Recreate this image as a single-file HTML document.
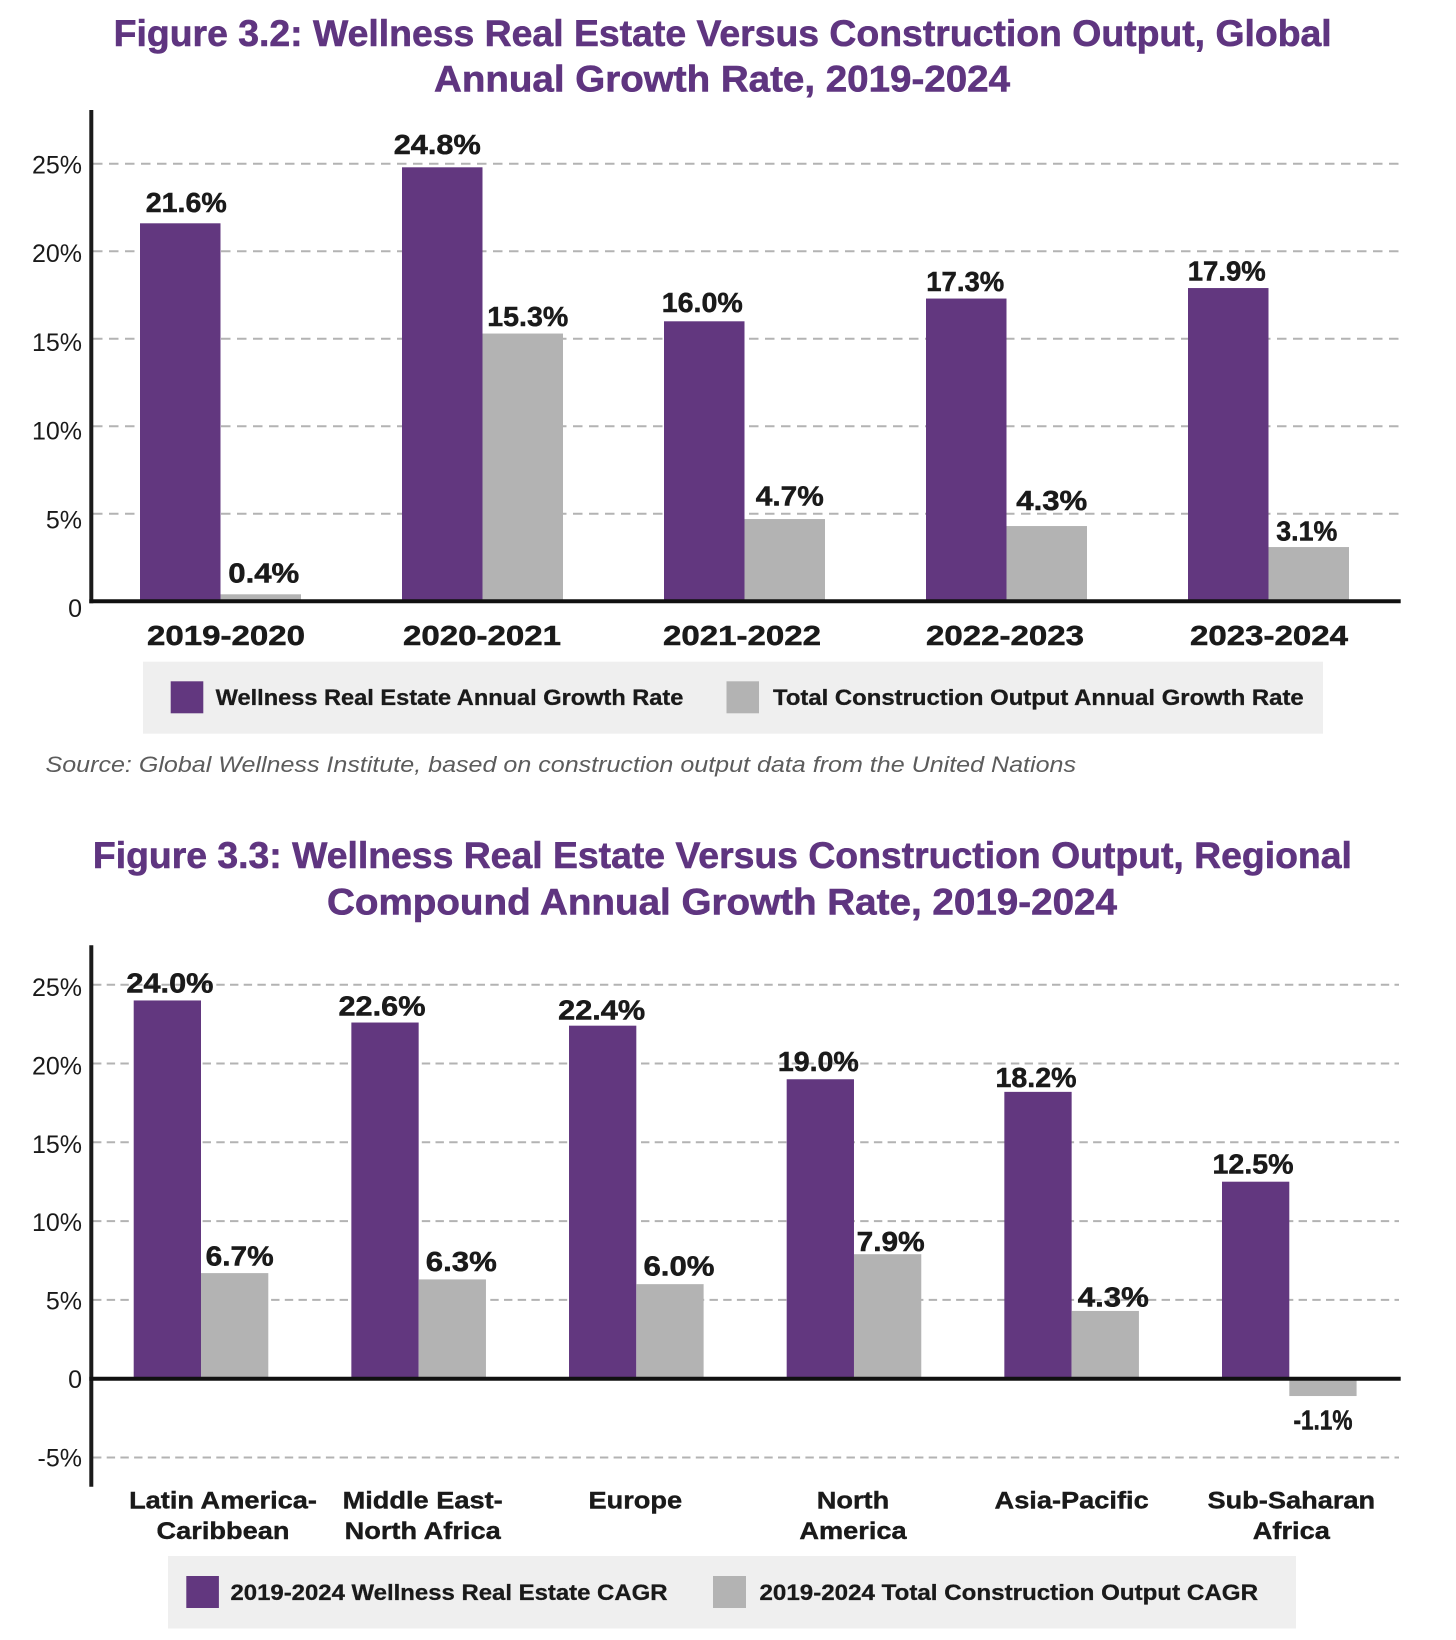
<!DOCTYPE html>
<html lang="en">
<head>
<meta charset="utf-8">
<title>Wellness Real Estate Versus Construction Output</title>
<style>
html,body{margin:0;padding:0;background:#fff;width:1456px;height:1640px;overflow:hidden}
svg{display:block}
text{font-family:"Liberation Sans",Arial,sans-serif}
.title{font-size:37px;font-weight:700;fill:#5f3580;stroke:#5f3580;stroke-width:.6px;text-anchor:start}
.legend-text{font-size:22px;font-weight:700;fill:#1a1a1a;stroke:#1a1a1a;stroke-width:.3px}
.source{font-size:22px;font-style:italic;fill:#5c5c5c}
</style>
</head>
<body>
<svg id="figure" xmlns="http://www.w3.org/2000/svg" width="1456" height="1640" viewBox="0 0 1456 1640">
  <rect x="0" y="0" width="1456" height="1640" fill="#ffffff"/>

  <g>
    <text class="title" x="113.7" y="46" textLength="1218" lengthAdjust="spacingAndGlyphs">Figure 3.2: Wellness Real Estate Versus Construction Output, Global</text>
    <text class="title" x="434" y="91.5" textLength="576" lengthAdjust="spacingAndGlyphs">Annual Growth Rate, 2019-2024</text>
  </g>
  <g id="chart1"></g>
  <g>
    <rect x="143" y="661.7" width="1180" height="72" fill="#efefef"/>
    <rect x="170.7" y="681.3" width="32.6" height="32" fill="#62377f"/>
    <text class="legend-text" x="215.7" y="705" textLength="467.7" lengthAdjust="spacingAndGlyphs">Wellness Real Estate Annual Growth Rate</text>
    <rect x="726.5" y="681.3" width="32.5" height="32" fill="#b3b3b3"/>
    <text class="legend-text" x="773" y="705" textLength="530.7" lengthAdjust="spacingAndGlyphs">Total Construction Output Annual Growth Rate</text>
  </g>
  <text class="source" x="45.5" y="772" textLength="1030.5" lengthAdjust="spacingAndGlyphs">Source: Global Wellness Institute, based on construction output data from the United Nations</text>

  <g>
    <text class="title" x="92.9" y="868" textLength="1259" lengthAdjust="spacingAndGlyphs">Figure 3.3: Wellness Real Estate Versus Construction Output, Regional</text>
    <text class="title" x="327" y="914.7" textLength="790" lengthAdjust="spacingAndGlyphs">Compound Annual Growth Rate, 2019-2024</text>
  </g>
  <g id="chart2"></g>
  <g>
    <rect x="168" y="1556" width="1128" height="72.5" fill="#efefef"/>
    <rect x="186.3" y="1576" width="32.6" height="32" fill="#62377f"/>
    <text class="legend-text" x="230.5" y="1600" textLength="437" lengthAdjust="spacingAndGlyphs">2019-2024 Wellness Real Estate CAGR</text>
    <rect x="713" y="1576" width="33" height="32" fill="#b3b3b3"/>
    <text class="legend-text" x="759.5" y="1600" textLength="498.5" lengthAdjust="spacingAndGlyphs">2019-2024 Total Construction Output CAGR</text>
  </g>
</svg>

<script>
// ---- Figure 3.2 data ----
const yearCategories = ["2019-2020", "2020-2021", "2021-2022", "2022-2023", "2023-2024"];
const wellnessGrowth = [21.6, 24.8, 16.0, 17.3, 17.9];
const constructionGrowth = [0.4, 15.3, 4.7, 4.3, 3.1];
const globalTickValues = [25, 20, 15, 10, 5, 0];
const globalTickLabels = ["25%", "20%", "15%", "10%", "5%", "0"];

// ---- Figure 3.3 data ----
const regionCategories = [
  ["Latin America-", "Caribbean"],
  ["Middle East-", "North Africa"],
  ["Europe"],
  ["North", "America"],
  ["Asia-Pacific"],
  ["Sub-Saharan", "Africa"]
];
const wellnessCagr = [24.0, 22.6, 22.4, 19.0, 18.2, 12.5];
const constructionCagr = [6.7, 6.3, 6.0, 7.9, 4.3, -1.1];
const regionalTickValues = [25, 20, 15, 10, 5, 0, -5];
const regionalTickLabels = ["25%", "20%", "15%", "10%", "5%", "0", "-5%"];

// ---- Axis functions ----
const NS = "http://www.w3.org/2000/svg";
const PURPLE = "#62377f", GREY = "#b3b3b3", INK = "#1a1a1a", GRID = "#b3b3b3";

const globalAxis = {
  y: function (v) { return 601.3 - v * 17.5; },
  tickY: function (v) { return 617 - v * 17.74; },
  x: function (i) { return 140 + 262 * i; },
  barWidth: 80.5,
  dash: "9.5 6.5",
  axisTop: 110, axisBottom: 603.3
};
const regionalAxis = {
  y: function (v) { return 1378.7 - v * 15.76; },
  tickY: function (v) { return 1388 - v * 15.68; },
  x: function (i) { return 133.7 + 217.66 * i; },
  barWidth: 67.3,
  dash: "8.4 5.3",
  axisTop: 945.3, axisBottom: 1486.7
};

// Small per-label layout adjustments, relative to each bar end.
const globalWellnessNudgeX = [6, -5, -2, -1, -1.5];
const globalWellnessNudgeY = [11.5, 13.5, 9.5, 7.5, 7.5];
const globalConstructionNudgeX = [3, 5, 5, 5, -2];
const globalConstructionNudgeY = [12, 7.7, 13.6, 16, 6.6];
const globalCategoryNudgeX = [5.5, -0.5, -2.5, -1.5, 0.5];
const regionalWellnessNudgeX = [2.6, -3, -1, -2, -2, -2.6];
const regionalWellnessNudgeY = [8, 7, 6, 8.5, 5, 8];
const regionalConstructionNudgeX = [5, 9, 9, 3, 8, 0];
const regionalConstructionNudgeY = [7.4, 8.6, 8.6, 3, 4.5, -33.6];
const regionalCategoryNudgeX = [22, 4, -1, -1, 0, 2];

function valueText(v) {
  return v.toFixed(1) + "%";
}
function glyphLength(str) {
  let total = 0;
  let prev = "";
  for (const ch of str) {
    if (ch === "1") total += prev === "." ? 6 : 10;
    else if (ch === "7") total += 13;
    else if (ch === ".") total += 6;
    else if (ch === "%") total += 33;
    else if (ch === "-") total += 4;
    else total += 16;
    prev = ch;
  }
  return total;
}
function attrs(el, map) {
  for (const k in map) el.setAttribute(k, map[k]);
  return el;
}

function drawGrid(root, axis, ticks) {
  ticks.forEach(function (v) {
    if (v === 0) return;
    const line = document.createElementNS(NS, "line");
    
    
    attrs(line, { x1: 93, x2: 1399, y1: axis.y(v), y2: axis.y(v), stroke: GRID, "stroke-width": 2, "stroke-dasharray": axis.dash });
    root.appendChild(line);
  });
}
function drawTicks(root, axis, ticks, labels) {
  ticks.forEach(function (v, i) {
    const t = document.createElementNS(NS, "text");
    
    
    attrs(t, { x: 82, y: axis.tickY(v), "text-anchor": "end", "font-size": 25, fill: INK });
    t.textContent = labels[i];
    root.appendChild(t);
  });
}
function drawBars(root, axis, values, offset, color, seriesName) {
  values.forEach(function (v, i) {
    const top = axis.y(Math.max(v, 0));
    const bottom = axis.y(Math.min(v, 0));
    const r = document.createElementNS(NS, "rect");
    
    
    attrs(r, { x: axis.x(i) + offset * axis.barWidth, y: top, width: axis.barWidth, height: bottom - top, fill: color });
    root.appendChild(r);
  });
}
function drawValueLabels(root, axis, values, offset, nudgeX, nudgeY, seriesName) {
  values.forEach(function (v, i) {
    const str = valueText(v);
    const t = document.createElementNS(NS, "text");
    
    
    const cx = axis.x(i) + (offset + 0.5) * axis.barWidth + nudgeX[i];
    const len = glyphLength(str);
    attrs(t, {
      x: cx - len / 2, y: axis.y(v) - nudgeY[i],
      "font-size": 27.5, "font-weight": 700, fill: INK,
      stroke: INK, "stroke-width": 0.5,
      textLength: len, lengthAdjust: "spacingAndGlyphs"
    });
    t.textContent = str;
    root.appendChild(t);
  });
}
function drawAxes(root, axis) {
  const yLine = document.createElementNS(NS, "line");
  
  
  attrs(yLine, { x1: 91.3, x2: 91.3, y1: axis.axisTop, y2: axis.axisBottom, stroke: INK, "stroke-width": 4 });
  root.appendChild(yLine);
  const xLine = document.createElementNS(NS, "line");
  
  
  attrs(xLine, { x1: 89.3, x2: 1400.7, y1: axis.y(0), y2: axis.y(0), stroke: "#111", "stroke-width": 4 });
  root.appendChild(xLine);
}

// ---- Figure 3.2 ----
(function () {
  const root = document.getElementById("chart1");
  drawGrid(root, globalAxis, globalTickValues);
  drawBars(root, globalAxis, wellnessGrowth, 0, PURPLE, "wellness-growth");
  drawBars(root, globalAxis, constructionGrowth, 1, GREY, "construction-growth");
  drawAxes(root, globalAxis);
  drawTicks(root, globalAxis, globalTickValues, globalTickLabels);
  drawValueLabels(root, globalAxis, wellnessGrowth, 0, globalWellnessNudgeX, globalWellnessNudgeY, "wellness-growth");
  drawValueLabels(root, globalAxis, constructionGrowth, 1, globalConstructionNudgeX, globalConstructionNudgeY, "construction-growth");
  yearCategories.forEach(function (label, i) {
    const t = document.createElementNS(NS, "text");
    
    
    const cx = globalAxis.x(i) + globalAxis.barWidth + globalCategoryNudgeX[i];
    attrs(t, {
      x: cx - 79, y: 645, "font-size": 27.5, "font-weight": 700, fill: INK,
      stroke: INK, "stroke-width": 0.5,
      textLength: 158, lengthAdjust: "spacingAndGlyphs"
    });
    t.textContent = label;
    root.appendChild(t);
  });
})();

// ---- Figure 3.3 ----
(function () {
  const root = document.getElementById("chart2");
  drawGrid(root, regionalAxis, regionalTickValues);
  drawBars(root, regionalAxis, wellnessCagr, 0, PURPLE, "wellness-cagr");
  drawBars(root, regionalAxis, constructionCagr, 1, GREY, "construction-cagr");
  drawAxes(root, regionalAxis);
  drawTicks(root, regionalAxis, regionalTickValues, regionalTickLabels);
  drawValueLabels(root, regionalAxis, wellnessCagr, 0, regionalWellnessNudgeX, regionalWellnessNudgeY, "wellness-cagr");
  drawValueLabels(root, regionalAxis, constructionCagr, 1, regionalConstructionNudgeX, regionalConstructionNudgeY, "construction-cagr");
  regionCategories.forEach(function (lines, i) {
    const cx = regionalAxis.x(i) + regionalAxis.barWidth + regionalCategoryNudgeX[i];
    lines.forEach(function (line, j) {
      const t = document.createElementNS(NS, "text");
      
      
      attrs(t, {
        x: cx, y: 1508.3 + j * 30.7, "text-anchor": "middle",
        "font-size": 24.5, "font-weight": 700, fill: INK,
        stroke: INK, "stroke-width": 0.4,
        transform: "translate(" + cx + " 0) scale(1.11 1) translate(" + (-cx) + " 0)"
      });
      t.textContent = line;
      root.appendChild(t);
    });
  });
})();
</script>
</body>
</html>
